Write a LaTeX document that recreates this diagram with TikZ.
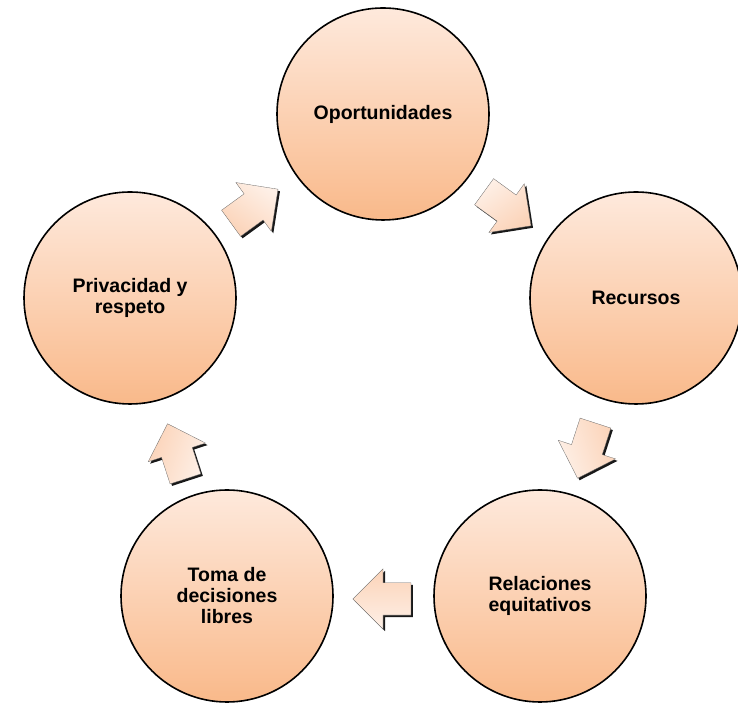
\documentclass[tikz,border=0pt]{standalone}
\usepackage{fontspec}
\setmainfont{Liberation Sans}
\usetikzlibrary{shapes,arrows,positioning,shadows}

\definecolor{peachtop}{HTML}{FEE9DC}
\definecolor{peachbot}{HTML}{F9B98A}
\definecolor{arrowtop}{HTML}{FEF0E7}
\definecolor{arrowbot}{HTML}{FBD3B8}

\begin{document}
\begin{tikzpicture}[x=1pt, y=1pt,
    circ/.style={circle, draw=black, line width=1.6pt, top color=peachtop, bottom color=peachbot,
                 minimum size=212pt, inner sep=0pt, align=center,
                 font=\fontsize{19.5}{21}\selectfont\bfseries},
    blockarrow/.style={single arrow, draw=black!60, line width=0.3pt, top color=arrowtop, bottom color=arrowbot,
                 minimum height=58pt, text height=16pt, text depth=16pt, text width=0pt,
                 single arrow head extend=14pt, inner sep=0pt,
                 drop shadow={shadow xshift=2pt, shadow yshift=-2pt, fill=black, opacity=0.9}}]

    \useasboundingbox (0,0) rectangle (738,708);

    % Nodes for the five circles
    \node [circ] (op)   at (383,594) {Oportunidades};
    \node [circ] (rec)  at (636,410) {Recursos};
    \node [circ] (rel)  at (540,112) {Relaciones\\equitativos};
    \node [circ] (toma) at (227,112) {Toma de\\decisiones\\libres};
    \node [circ] (priv) at (130,410) {Privacidad y\\respeto};

    % Block arrows between the circles
    \node [blockarrow, rotate=36, shading angle=-36]   (a1) at (248,497) {};
    \node [blockarrow, rotate=-36, shading angle=36]   (a2) at (501,504) {};
    \node [blockarrow, rotate=-108, shading angle=108] (a3) at (589,265) {};
    \node [blockarrow, rotate=180, shading angle=180]  (a4) at (390,109) {};
    \node [blockarrow, rotate=108, shading angle=-108] (a5) at (179,249) {};
\end{tikzpicture}
\end{document}
